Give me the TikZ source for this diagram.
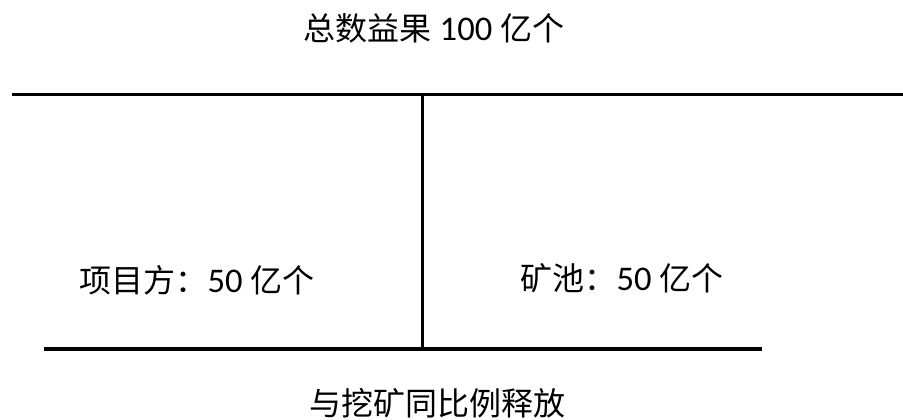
\documentclass[tikz,border=0pt]{standalone}
\usepackage{fontspec}
\setmainfont{Carlito}[Scale=1.08]
\newfontfamily\cjk{Noto Sans CJK SC}
\usetikzlibrary{positioning}

\begin{document}
\begin{tikzpicture}[x=0.75pt,y=-0.75pt]
			\tikzstyle{every node}=[font=\fontsize{24}{28}\selectfont, inner sep=0pt]
			\tikzstyle{bar}=[line width=2.3pt]
			\useasboundingbox (0,0) rectangle (903,419);
			
			% lines
			\coordinate (tl) at (12,94.5);
			\coordinate (tr) at (903,94.5);
			\coordinate (vt) at (422.5,94.5);
			\coordinate (vb) at (422.5,349);
			\coordinate (bl) at (44,349);
			\coordinate (br) at (762,349);
			\draw [bar] (tl) -- (tr);
			\draw [bar] (vt) -- (vb);
			\draw [bar] (bl) -- (br);
			
			% labels
			\node (total) at (434,28) {{\cjk 总数益果} 100 {\cjk 亿个}};
			\node (team) at (197,280) {{\cjk 项目方：}50 {\cjk 亿个}};
			\node (pool) at (622,278) {{\cjk 矿池：}50 {\cjk 亿个}};
			\node (release) at (437,403) {\cjk 与挖矿同比例释放};
			
			\end{tikzpicture}
\end{document}
